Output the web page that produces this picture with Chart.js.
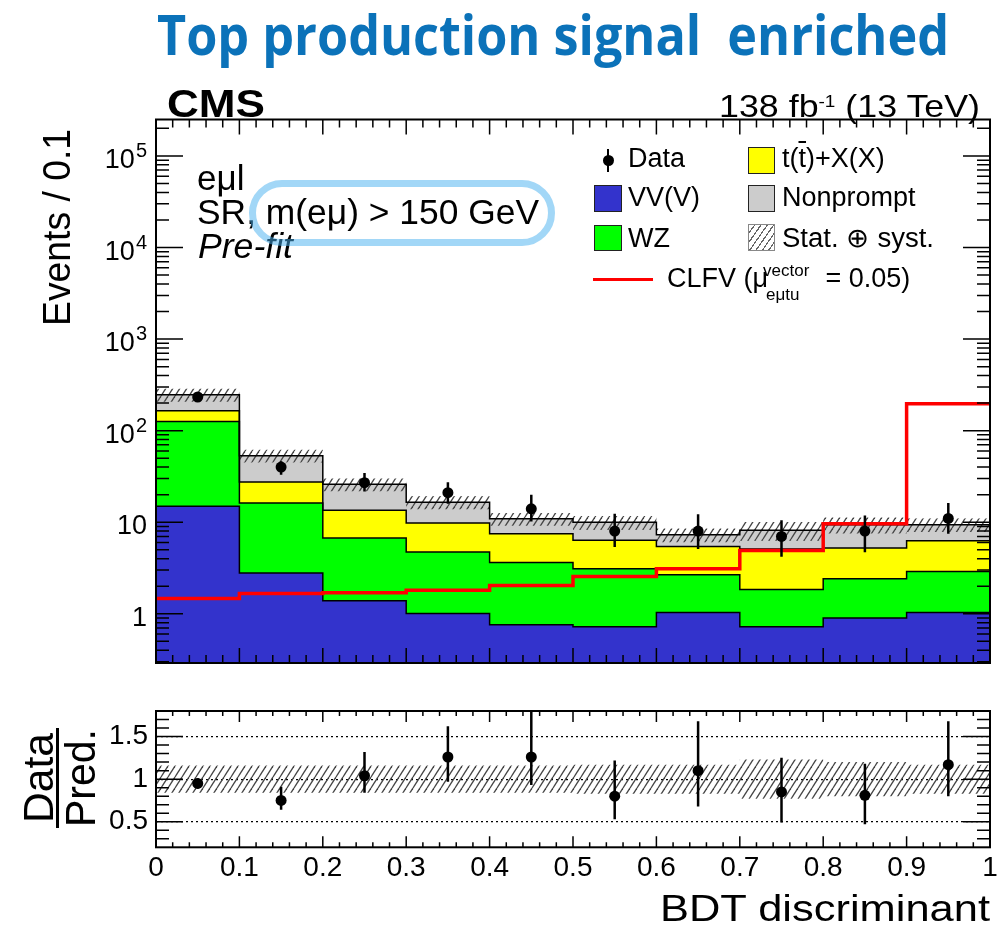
<!DOCTYPE html>
<html><head><meta charset="utf-8">
<script src="https://cdn.jsdelivr.net/npm/chart.js@4.4.1/dist/chart.umd.min.js"></script>
<style>
html,body{margin:0;padding:0;background:#fff;width:1000px;height:933px;overflow:hidden;font-family:"Liberation Sans",Arial,Helvetica,sans-serif;}
#wrap{position:relative;width:1000px;height:933px;}
canvas{position:absolute;left:0;}
.t{position:absolute;white-space:pre;line-height:1;color:#000;transform-origin:0 0;}
.bl{display:inline-block;width:0;height:0;vertical-align:baseline;}
</style></head><body><div id="wrap">
<canvas id="main" width="1000" height="700" style="top:0"></canvas>
<canvas id="ratio" width="1000" height="233" style="top:700px"></canvas>
</div>
<script>
// ---------------- data ----------------
const binEdges   = [0, 0.1, 0.2, 0.3, 0.4, 0.5, 0.6, 0.7, 0.8, 0.9, 1.0];
const binCenters = [0.05, 0.15, 0.25, 0.35, 0.45, 0.55, 0.65, 0.75, 0.85, 0.95];
const vvYield        = [14.9, 2.78, 1.39, 1.01, 0.76, 0.72, 1.03, 0.72, 0.90, 1.03];
const wzYield        = [111, 13.4, 5.33, 3.71, 2.88, 2.39, 1.64, 1.12, 1.51, 1.87];
const ttxYield       = [39, 11.3, 6.8, 5.1, 3.85, 3.23, 2.77, 3.26, 2.81, 3.38];
const nonpromptYield = [82, 25.8, 12.4, 6.7, 3.4, 3.62, 1.86, 3.06, 4.17, 3.11];
const clfvSignal     = [1.47, 1.66, 1.70, 1.81, 2.04, 2.56, 3.10, 4.92, 9.63, 197];
const dataCounts     = [233, 40, 27, 21, 14, 8, 8, 7, 8, 11];
const dataErrLow     = [218, 33, 21.7, 15.9, 10.2, 5.35, 5.1, 4.2, 4.7, 7.5];
const dataErrHigh    = [248, 46.3, 34.4, 27.3, 20, 12.4, 12.2, 10.5, 11.8, 16.2];
const systRelUnc     = [0.16, 0.16, 0.16, 0.16, 0.16, 0.17, 0.17, 0.23, 0.20, 0.17];
const ratioValues    = [0.95, 0.75, 1.04, 1.26, 1.26, 0.80, 1.10, 0.85, 0.81, 1.17];
const ratioErrLow    = [0.89, 0.64, 0.84, 0.97, 0.93, 0.53, 0.68, 0.49, 0.47, 0.80];
const ratioErrHigh   = [1.01, 0.91, 1.32, 1.62, 1.85, 1.22, 1.68, 1.25, 1.18, 1.68];
const xTickValues     = [0, 0.1, 0.2, 0.3, 0.4, 0.5, 0.6, 0.7, 0.8, 0.9, 1];
const xTickLabels     = ['0', '0.1', '0.2', '0.3', '0.4', '0.5', '0.6', '0.7', '0.8', '0.9', '1'];
const yTickValues     = [1, 10, 100, 1000, 10000, 100000];
const ratioTickValues = [0.5, 1, 1.5];
const ratioTickLabels = ['0.5', '1', '1.5'];

// ---------------- helpers ----------------
const COLORS = {vv:'#3333cc', wz:'#00ff00', ttx:'#ffff00', np:'#cccccc', sig:'#ff0000'};
function stepPts(vals){
  const p = vals.map((v,i)=>({x:binEdges[i], y:v}));
  p.push({x:binEdges[binEdges.length-1], y:vals[vals.length-1]});
  return p;
}
function cumulate(...arrs){ return arrs[0].map((_,i)=>arrs.reduce((s,a)=>s+a[i],0)); }
function makeHatch(ctx){
  const c=document.createElement('canvas'); const w=7,h=11; c.width=w; c.height=h;
  const g=c.getContext('2d'); g.strokeStyle='#444'; g.lineWidth=1.3;
  for (const dx of [-w,0,w]){ g.beginPath(); g.moveTo(dx,h); g.lineTo(dx+w,0); g.stroke(); }
  return ctx.createPattern(c,'repeat');
}
const cumVV  = vvYield.slice();
const cumWZ  = cumulate(vvYield, wzYield);
const cumTTX = cumulate(vvYield, wzYield, ttxYield);
const total  = cumulate(vvYield, wzYield, ttxYield, nonpromptYield);
const bandLo = total.map((t,i)=>t*(1-systRelUnc[i]));
const bandHi = total.map((t,i)=>t*(1+systRelUnc[i]));
const rBandLo = systRelUnc.map(u=>1-u);
const rBandHi = systRelUnc.map(u=>1+u);

const errorBars = {
  id:'errorBars',
  afterDatasetsDraw(chart){
    const {ctx, chartArea:a} = chart; const ys = chart.scales.y;
    ctx.save(); ctx.beginPath(); ctx.rect(a.left,a.top,a.right-a.left,a.bottom-a.top); ctx.clip();
    chart.data.datasets.forEach((ds,i)=>{
      if(!ds.errLow) return;
      const meta = chart.getDatasetMeta(i);
      ctx.strokeStyle='#000'; ctx.lineWidth=2.5;
      meta.data.forEach((pt,j)=>{
        ctx.beginPath();
        ctx.moveTo(pt.x, ys.getPixelForValue(ds.errLow[j]));
        ctx.lineTo(pt.x, ys.getPixelForValue(ds.errHigh[j]));
        ctx.stroke();
      });
    });
    ctx.restore();
  }
};

const rootFrame = {
  id:'rootFrame',
  afterDraw(chart, args, o){
    const {ctx, chartArea:a, scales:{x,y}} = chart;
    ctx.save(); ctx.strokeStyle='#000'; ctx.lineWidth=1.5; ctx.beginPath();
    const seg=(x1,y1,x2,y2)=>{ctx.moveTo(x1,y1);ctx.lineTo(x2,y2);};
    o.xMajor.forEach(v=>{const p=x.getPixelForValue(v); seg(p,a.bottom,p,a.bottom-o.xMajLen); seg(p,a.top,p,a.top+o.xMajLen);});
    o.xMinor.forEach(v=>{const p=x.getPixelForValue(v); seg(p,a.bottom,p,a.bottom-o.xMinLen); seg(p,a.top,p,a.top+o.xMinLen);});
    o.yMajor.forEach(v=>{const p=y.getPixelForValue(v); seg(a.left,p,a.left+o.yMajLen,p); seg(a.right,p,a.right-o.yMajLen,p);});
    o.yMinor.forEach(v=>{const p=y.getPixelForValue(v); seg(a.left,p,a.left+o.yMinLen,p); seg(a.right,p,a.right-o.yMinLen,p);});
    ctx.stroke();
    ctx.lineWidth=2; ctx.strokeRect(a.left,a.top,a.right-a.left,a.bottom-a.top);
    ctx.restore();
  }
};

const logLabels = {
  id:'logLabels',
  afterDraw(chart){
    const y = chart.scales.y; const ctx = chart.ctx;
    if (y.type !== 'logarithmic') return;
    ctx.save(); ctx.fillStyle='#000'; ctx.textBaseline='alphabetic'; ctx.textAlign='left';
    const right = 147;
    y.ticks.forEach(t=>{
      const v=t.value; const p=y.getPixelForValue(v);
      const e=Math.round(Math.log10(v));
      const base = e===0 ? '1' : '10';
      const sup = e>=2 ? String(e) : '';
      ctx.font='27px "Liberation Sans", Arial, sans-serif';
      const bw=ctx.measureText(base).width;
      ctx.font='20px "Liberation Sans", Arial, sans-serif';
      const sw=sup?ctx.measureText(sup).width+1:0;
      ctx.font='27px "Liberation Sans", Arial, sans-serif';
      ctx.fillText(base, right-sw-bw, p+12);
      if(sup){ ctx.font='20px "Liberation Sans", Arial, sans-serif'; ctx.fillText(sup, right-sw+1, p+1); }
    });
    ctx.restore();
  }
};
const zeroPad = (s)=>{ s.paddingTop=0; s.paddingBottom=0; s.paddingLeft=0; s.paddingRight=0; };

// tick position lists
const xMinorTicks=[]; for(let i=0;i<=50;i++){ if(i%5) xMinorTicks.push(i/50); }
const YMIN=0.29, YMAX=2.5e5;
const yMinorTicks=[]; for(let n=-1;n<=5;n++){ for(let k=2;k<=9;k++){ const v=k*Math.pow(10,n); if(v>YMIN&&v<YMAX) yMinorTicks.push(v);} }
const rMinorTicks=[]; for(let i=3;i<=17;i++){ if(i!==5&&i!==10&&i!==15) rMinorTicks.push(i/10); }

// ---------------- upper chart ----------------
const mctx = document.getElementById('main').getContext('2d');
const hatchM = makeHatch(mctx);
const stackDs = (label, vals, color, fill, order)=>({label, data:stepPts(vals), stepped:true, fill, backgroundColor:color,
  borderColor:'#000', borderWidth:1.5, pointRadius:0, order});
new Chart(mctx, {
  type:'line',
  data:{datasets:[
    stackDs('VV(V)', cumVV, COLORS.vv, 'start', 10),
    stackDs('WZ', cumWZ, COLORS.wz, '-1', 9),
    stackDs('t(t)+X(X)', cumTTX, COLORS.ttx, '-1', 8),
    stackDs('Nonprompt', total, COLORS.np, '-1', 7),
    {label:'unc lo', data:stepPts(bandLo), stepped:true, fill:false, borderWidth:0, borderColor:'rgba(0,0,0,0)', pointRadius:0, order:6},
    {label:'Stat. ⊕ syst.', data:stepPts(bandHi), stepped:true, fill:{target:4}, backgroundColor:hatchM, borderWidth:0, borderColor:'rgba(0,0,0,0)', pointRadius:0, order:5},
    {label:'CLFV', data:stepPts(clfvSignal), stepped:true, fill:false, borderColor:COLORS.sig, borderWidth:3.5, pointRadius:0, order:2},
    {label:'Data', data:binCenters.map((x,i)=>({x, y:dataCounts[i]})), showLine:false, pointRadius:5.5,
     pointBackgroundColor:'#000', pointBorderColor:'#000', pointBorderWidth:0, errLow:dataErrLow, errHigh:dataErrHigh, order:1}
  ]},
  options:{
    responsive:false, animation:false, events:[],
    layout:{padding:{left:0,right:10,top:119.5,bottom:37}},
    scales:{
      x:{type:'linear', min:0, max:1, display:false},
      y:{type:'logarithmic', min:YMIN, max:YMAX,
         afterBuildTicks:(s)=>{ s.ticks = yTickValues.map(value=>({value})); },
         afterFit:(s)=>{ s.width=156; zeroPad(s); },
         grid:{display:false, drawTicks:false}, border:{display:false}, ticks:{display:false}}
    },
    plugins:{legend:{display:false}, tooltip:{enabled:false}, filler:{drawTime:'beforeDatasetsDraw'},
      rootFrame:{xMajor:xTickValues, xMinor:xMinorTicks, xMajLen:15, xMinLen:8, yMajor:yTickValues, yMinor:yMinorTicks, yMajLen:27, yMinLen:13}}
  },
  plugins:[errorBars, rootFrame, logLabels]
});

// ---------------- ratio chart ----------------
const rctx = document.getElementById('ratio').getContext('2d');
const hatchR = makeHatch(rctx);
new Chart(rctx, {
  type:'line',
  data:{datasets:[
    {label:'lo', data:stepPts(rBandLo), stepped:true, fill:false, borderWidth:0, borderColor:'rgba(0,0,0,0)', pointRadius:0},
    {label:'hi', data:stepPts(rBandHi), stepped:true, fill:{target:0}, backgroundColor:hatchR, borderWidth:0, borderColor:'rgba(0,0,0,0)', pointRadius:0},
    {label:'Data/Pred.', data:binCenters.map((x,i)=>({x, y:ratioValues[i]})), showLine:false, pointRadius:5.5,
     pointBackgroundColor:'#000', pointBorderColor:'#000', pointBorderWidth:0, errLow:ratioErrLow, errHigh:ratioErrHigh}
  ]},
  options:{
    responsive:false, animation:false, events:[],
    layout:{padding:{left:0,right:10,top:11,bottom:0}},
    scales:{
      x:{type:'linear', min:0, max:1,
         afterBuildTicks:(s)=>{ s.ticks = xTickValues.map(value=>({value})); },
         afterFit:(s)=>{ s.height=85.7; zeroPad(s); },
         ticks:{callback:(v)=>xTickLabels[xTickValues.indexOf(Math.round(v*10)/10)], color:'#000', maxRotation:0, autoSkip:false, padding:4,
                font:{family:'"Liberation Sans", Arial, sans-serif', size:28}},
         grid:{display:false, drawTicks:false}, border:{display:false}},
      y:{type:'linear', min:0.2, max:1.8,
         afterBuildTicks:(s)=>{ s.ticks = ratioTickValues.map(value=>({value})); },
         afterFit:(s)=>{ s.width=156; zeroPad(s); },
         ticks:{callback:(v)=>ratioTickLabels[ratioTickValues.indexOf(v)], color:'#000', padding:8,
                font:{family:'"Liberation Sans", Arial, sans-serif', size:28}},
         grid:{display:true, drawTicks:false, color:'#000', lineWidth:1.2}, border:{display:false, dash:[2,3]}}
    },
    plugins:{legend:{display:false}, tooltip:{enabled:false}, filler:{drawTime:'beforeDatasetsDraw'},
      rootFrame:{xMajor:xTickValues, xMinor:xMinorTicks, xMajLen:11, xMinLen:5, yMajor:ratioTickValues, yMinor:rMinorTicks, yMajLen:27, yMinLen:13}}
  },
  plugins:[errorBars, rootFrame]
});

// ---------------- text & legend (HTML) ----------------
const wrap = document.getElementById('wrap');
function addText(html, o){
  const el=document.createElement('span'); el.className='t';
  el.innerHTML = html + '<span class="bl"></span>';
  el.style.fontFamily = o.font || '"Liberation Sans", Arial, Helvetica, sans-serif';
  el.style.fontSize = o.size+'px';
  el.style.fontWeight = o.weight || 'normal';
  el.style.fontStyle = o.style || 'normal';
  el.style.color = o.color || '#000';
  el.style.left='0px'; el.style.top='0px';
  wrap.appendChild(el);
  const r=el.getBoundingClientRect(); const b=el.querySelector('.bl').getBoundingClientRect();
  const off=b.top-r.top; const w=r.width; const s=o.width? o.width/w : 1;
  if(!o.rotate){
    let left=o.x; if(o.anchor==='end') left=o.x-w*s;
    el.style.left=left+'px'; el.style.top=(o.baseline-off)+'px';
    if(s!==1) el.style.transform='scaleX('+s+')';
  } else {
    el.style.left=(o.bx-off)+'px'; el.style.top=(o.cy+w*s/2)+'px';
    el.style.transform='rotate(-90deg) scaleX('+s+')';
  }
  return el;
}
function addDiv(css){ const d=document.createElement('div'); d.style.position='absolute'; Object.assign(d.style, css); wrap.appendChild(d); return d; }

addText('Top production signal  enriched', {x:157, baseline:55, size:56, weight:'700', font:'"Open Sans", sans-serif', color:'#0b72b9', width:792});
addText('CMS', {x:167, baseline:117, size:39, weight:'bold', width:98});
addText('138 fb<span style="font-size:0.53em;vertical-align:0.62em">-1</span> (13 TeV)', {x:719, baseline:117, size:32, width:261});
addText('eμl', {x:197, baseline:190, size:35});
addText('SR, m(eμ) > 150 GeV', {x:197, baseline:223.5, size:35, width:342});
addText('Pre-fit', {x:198, baseline:258, size:35, style:'italic', width:95});
addDiv({left:'249px', top:'180px', width:'306px', height:'66px', boxSizing:'border-box', border:'7px solid rgba(70,175,240,0.5)', borderRadius:'33px'});

// legend
addDiv({left:'602.5px', top:'154.5px', width:'11px', height:'11px', borderRadius:'50%', background:'#000'});
addDiv({left:'606.8px', top:'149px', width:'2.5px', height:'23px', background:'#000'});
addText('Data', {x:628, baseline:167, size:27});
addDiv({left:'748px', top:'146.5px', width:'27px', height:'27px', background:COLORS.ttx, border:'1.5px solid #222', boxSizing:'border-box'});
addText('t(<span style="text-decoration:overline">t</span>)+X(X)', {x:782, baseline:167, size:27});
addDiv({left:'594px', top:'185px', width:'28px', height:'27px', background:COLORS.vv, border:'1.5px solid #222', boxSizing:'border-box'});
addText('VV(V)', {x:628, baseline:206, size:27});
addDiv({left:'748px', top:'185px', width:'27px', height:'27px', background:COLORS.np, border:'1.5px solid #222', boxSizing:'border-box'});
addText('Nonprompt', {x:782, baseline:206, size:27});
addDiv({left:'594px', top:'224.5px', width:'28px', height:'26px', background:COLORS.wz, border:'1.5px solid #222', boxSizing:'border-box'});
addText('WZ', {x:628, baseline:246.5, size:27});
addDiv({left:'748px', top:'223.5px', width:'27px', height:'27px', border:'1px solid #888', boxSizing:'border-box',
        background:'repeating-linear-gradient(125deg, #fff 0px, #fff 4px, #666 4px, #666 5.2px)'});
addText('Stat. ⊕ syst.', {x:782, baseline:246.5, size:27, width:152});
addDiv({left:'593px', top:'277.5px', width:'60px', height:'3.5px', background:COLORS.sig});
addText('CLFV (μ', {x:667, baseline:286.5, size:27});
addText('vector', {x:763, baseline:276, size:17});
addText('eμtu', {x:766, baseline:300, size:17});
addText(' = 0.05)', {x:818, baseline:286.5, size:27});

// axis titles
addText('Events / 0.1', {rotate:true, bx:70, cy:227, size:38, width:197});
addText('Data', {rotate:true, bx:53, cy:778, size:42, width:90});
addText('Pred.', {rotate:true, bx:95, cy:778, size:42, width:98});
addDiv({left:'55.5px', top:'728px', width:'3px', height:'100px', background:'#000'});
addText('BDT discriminant', {x:990, anchor:'end', baseline:921, size:36, width:330});
</script>
</body></html>
